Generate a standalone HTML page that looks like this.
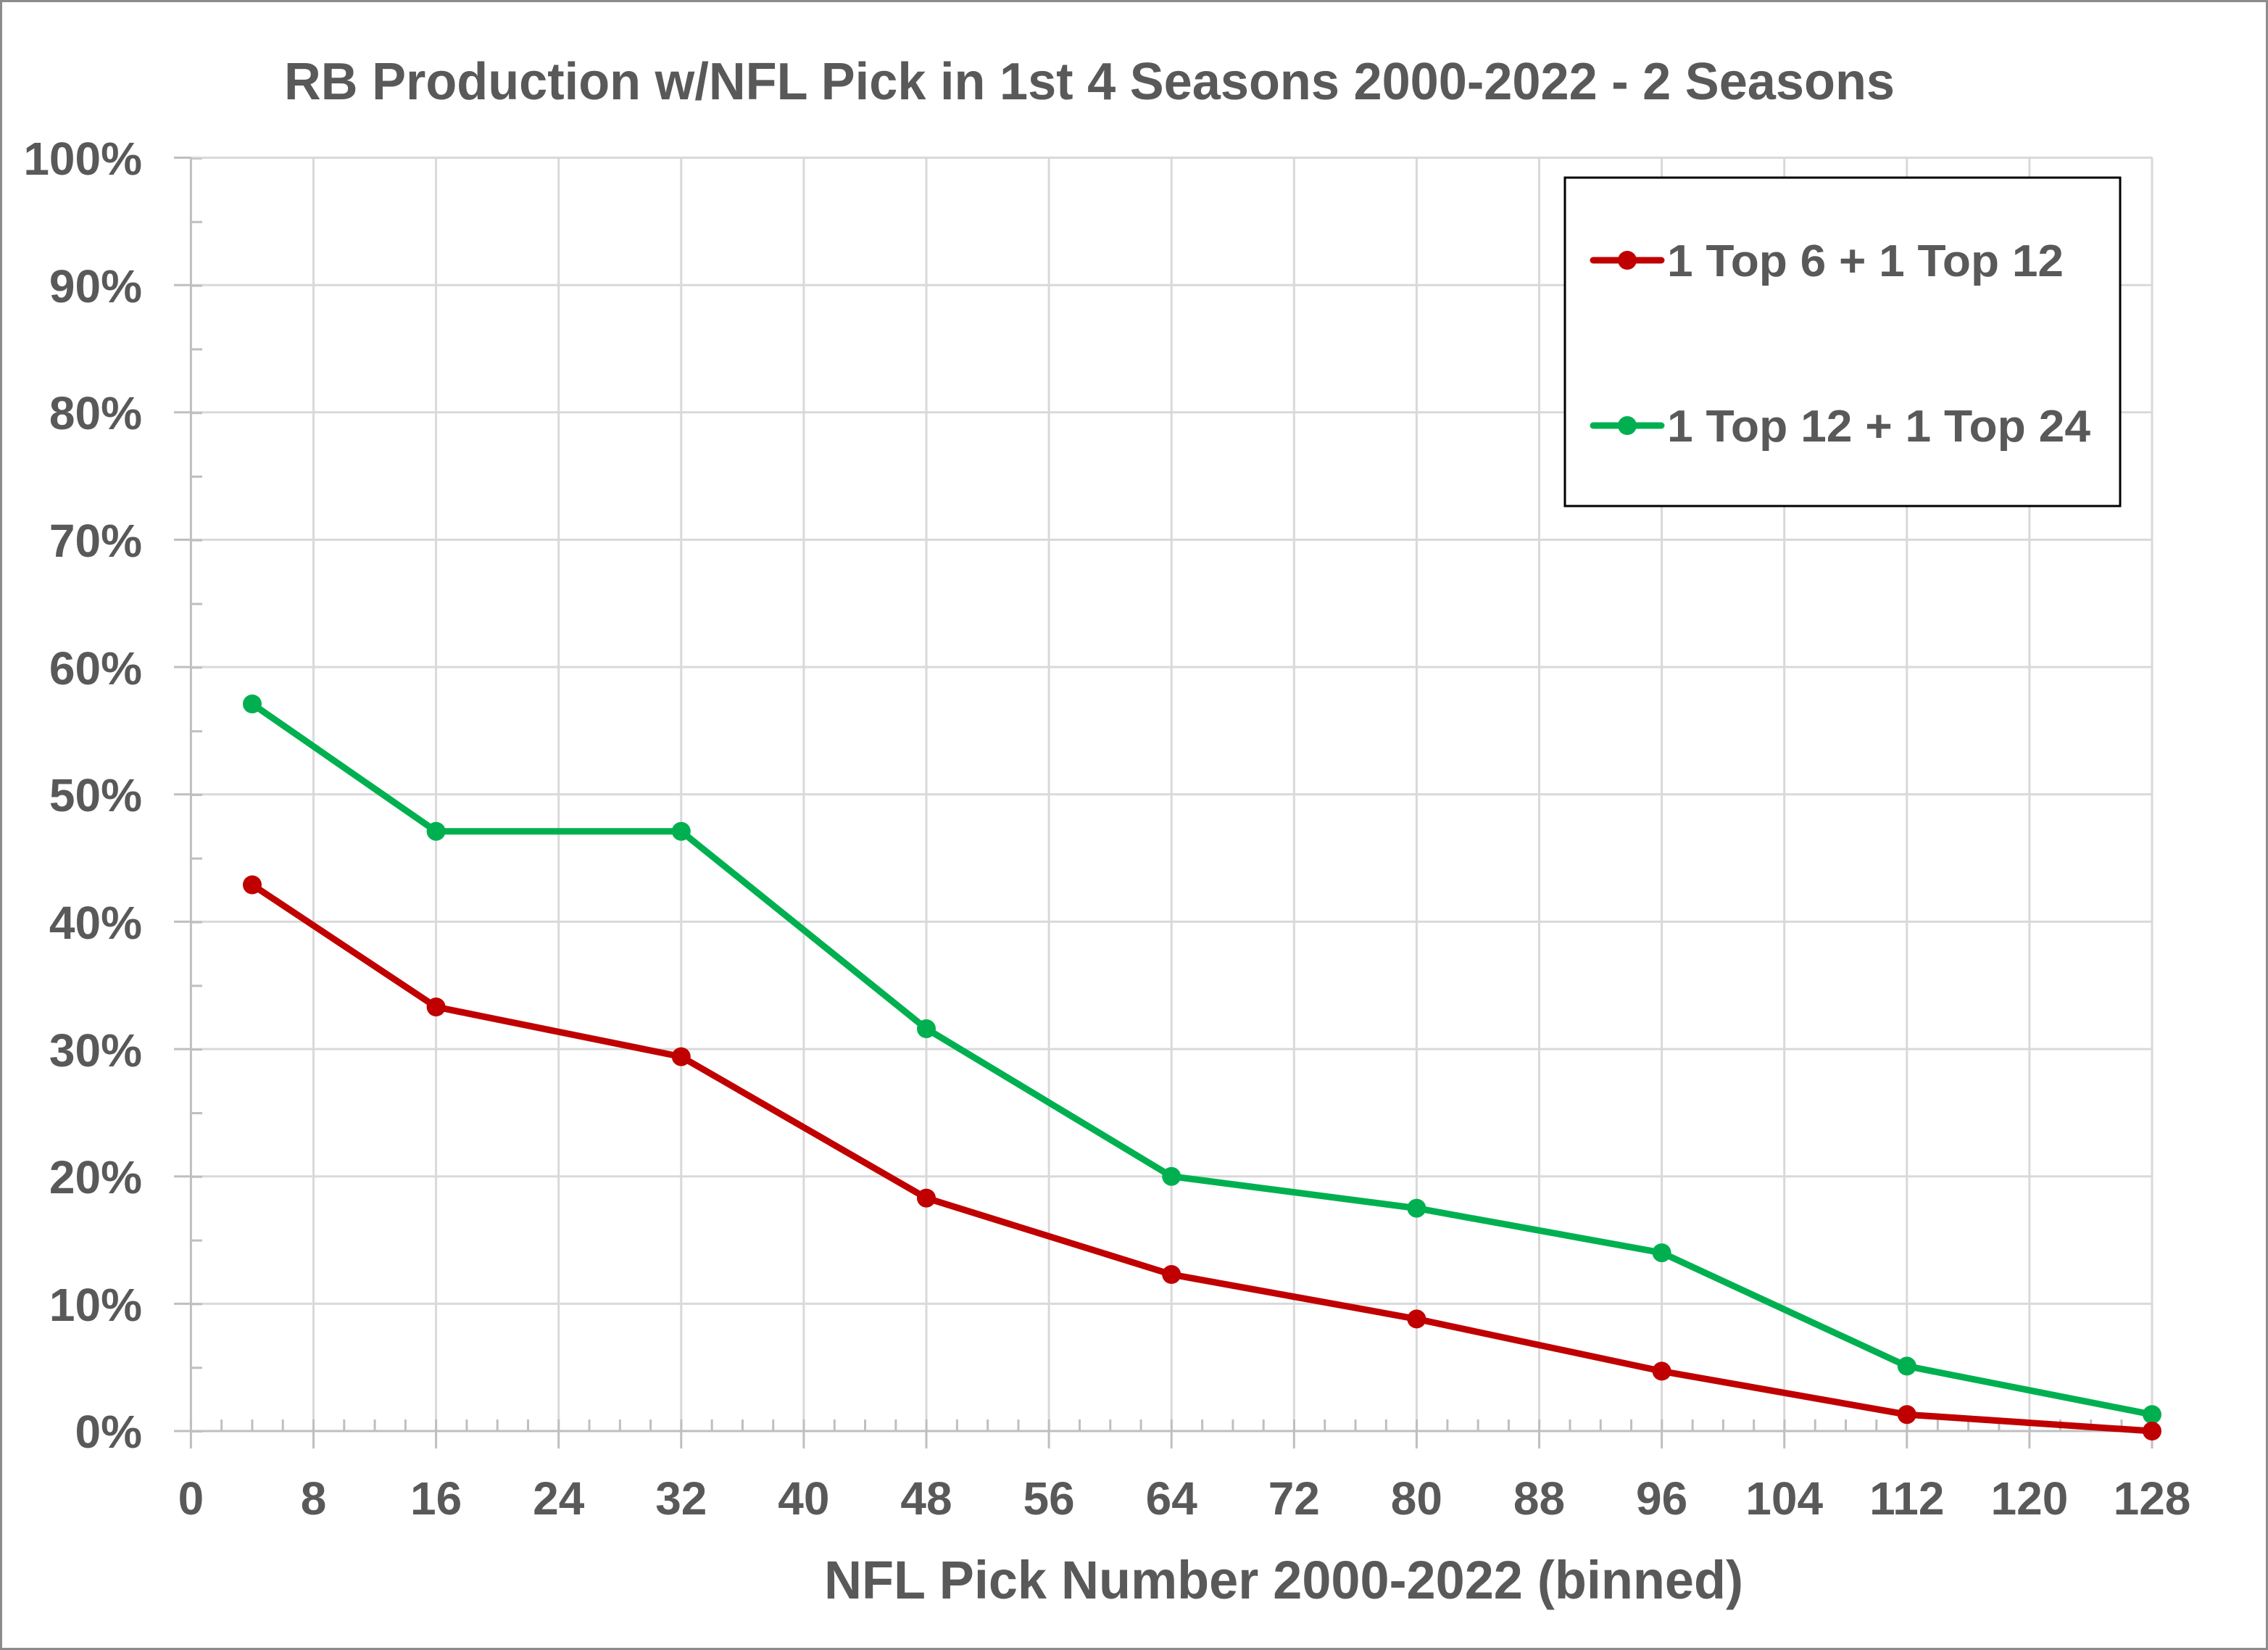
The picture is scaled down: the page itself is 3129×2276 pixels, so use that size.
<!DOCTYPE html>
<html><head><meta charset="utf-8"><style>html,body{margin:0;padding:0;background:#fff}svg{display:block}</style></head>
<body>
<svg width="3129" height="2276" viewBox="0 0 3129 2276" xmlns="http://www.w3.org/2000/svg" font-family="'Liberation Sans', sans-serif" font-weight="bold" fill="#595959">
<rect x="1.5" y="1.5" width="3126" height="2273" fill="#fff" stroke="#8c8c8c" stroke-width="3"/>
<g stroke="#d9d9d9" stroke-width="3">
<line x1="263" y1="217.5" x2="2969" y2="217.5"/>
<line x1="263" y1="393.2" x2="2969" y2="393.2"/>
<line x1="263" y1="568.8" x2="2969" y2="568.8"/>
<line x1="263" y1="744.5" x2="2969" y2="744.5"/>
<line x1="263" y1="920.1" x2="2969" y2="920.1"/>
<line x1="263" y1="1095.8" x2="2969" y2="1095.8"/>
<line x1="263" y1="1271.4" x2="2969" y2="1271.4"/>
<line x1="263" y1="1447.1" x2="2969" y2="1447.1"/>
<line x1="263" y1="1622.7" x2="2969" y2="1622.7"/>
<line x1="263" y1="1798.4" x2="2969" y2="1798.4"/>
</g>
<g stroke="#d9d9d9" stroke-width="3">
<line x1="432.5" y1="217" x2="432.5" y2="1974"/>
<line x1="601.6" y1="217" x2="601.6" y2="1974"/>
<line x1="770.7" y1="217" x2="770.7" y2="1974"/>
<line x1="939.8" y1="217" x2="939.8" y2="1974"/>
<line x1="1108.9" y1="217" x2="1108.9" y2="1974"/>
<line x1="1278" y1="217" x2="1278" y2="1974"/>
<line x1="1447.1" y1="217" x2="1447.1" y2="1974"/>
<line x1="1616.2" y1="217" x2="1616.2" y2="1974"/>
<line x1="1785.3" y1="217" x2="1785.3" y2="1974"/>
<line x1="1954.4" y1="217" x2="1954.4" y2="1974"/>
<line x1="2123.5" y1="217" x2="2123.5" y2="1974"/>
<line x1="2292.6" y1="217" x2="2292.6" y2="1974"/>
<line x1="2461.7" y1="217" x2="2461.7" y2="1974"/>
<line x1="2630.8" y1="217" x2="2630.8" y2="1974"/>
<line x1="2799.9" y1="217" x2="2799.9" y2="1974"/>
<line x1="2969" y1="217" x2="2969" y2="1974"/>
</g>
<g stroke="#bfbfbf" stroke-width="3">
<line x1="263.4" y1="217" x2="263.4" y2="1998"/>
<line x1="240" y1="1974" x2="2969" y2="1974"/>
<path d="M240 217.5h23M240 393.2h23M240 568.8h23M240 744.5h23M240 920.1h23M240 1095.8h23M240 1271.4h23M240 1447.1h23M240 1622.7h23M240 1798.4h23"/>
<path d="M432.5 1974v24M601.6 1974v24M770.7 1974v24M939.8 1974v24M1108.9 1974v24M1278 1974v24M1447.1 1974v24M1616.2 1974v24M1785.3 1974v24M1954.4 1974v24M2123.5 1974v24M2292.6 1974v24M2461.7 1974v24M2630.8 1974v24M2799.9 1974v24M2969 1974v24"/>
</g>
<line x1="261.9" y1="1966" x2="2971" y2="1966" stroke="#bfbfbf" stroke-width="16" stroke-dasharray="3 39.28"/>
<line x1="271" y1="218.5" x2="271" y2="1976" stroke="#bfbfbf" stroke-width="16" stroke-dasharray="3 84.8" stroke-dashoffset="-86.3"/>
<g font-size="64" text-anchor="end">
<text x="196" y="241">100%</text>
<text x="196" y="417">90%</text>
<text x="196" y="592">80%</text>
<text x="196" y="768">70%</text>
<text x="196" y="944">60%</text>
<text x="196" y="1119">50%</text>
<text x="196" y="1295">40%</text>
<text x="196" y="1471">30%</text>
<text x="196" y="1646">20%</text>
<text x="196" y="1822">10%</text>
<text x="196" y="1997">0%</text>
</g>
<g font-size="64" text-anchor="middle">
<text x="263.4" y="2089">0</text>
<text x="432.5" y="2089">8</text>
<text x="601.6" y="2089">16</text>
<text x="770.7" y="2089">24</text>
<text x="939.8" y="2089">32</text>
<text x="1108.9" y="2089">40</text>
<text x="1278" y="2089">48</text>
<text x="1447.1" y="2089">56</text>
<text x="1616.2" y="2089">64</text>
<text x="1785.3" y="2089">72</text>
<text x="1954.4" y="2089">80</text>
<text x="2123.5" y="2089">88</text>
<text x="2292.6" y="2089">96</text>
<text x="2461.7" y="2089">104</text>
<text x="2630.8" y="2089">112</text>
<text x="2799.9" y="2089">120</text>
<text x="2969" y="2089">128</text>
</g>
<text x="392" y="137" font-size="72" textLength="2222" lengthAdjust="spacingAndGlyphs">RB Production w/NFL Pick in 1st 4 Seasons 2000-2022 - 2 Seasons</text>
<text x="1137" y="2205" font-size="74" textLength="1268" lengthAdjust="spacingAndGlyphs">NFL Pick Number 2000-2022 (binned)</text>
<g fill="none" stroke-width="9" stroke-linejoin="round" stroke-linecap="round">
<polyline stroke="#00b050" points="348,971 601.6,1146.7 939.8,1146.7 1278,1419 1616.2,1622.7 1954.4,1666.6 2292.6,1728.1 2630.8,1884.4 2969,1951.2"/>
<polyline stroke="#c00000" points="348,1220.5 601.6,1389 939.8,1457.6 1278,1652.6 1616.2,1758 1954.4,1819.4 2292.6,1891.4 2630.8,1951.2 2969,1974"/>
</g>
<g fill="#00b050">
<circle cx="348" cy="971" r="13"/><circle cx="601.6" cy="1146.7" r="13"/><circle cx="939.8" cy="1146.7" r="13"/><circle cx="1278" cy="1419" r="13"/><circle cx="1616.2" cy="1622.7" r="13"/><circle cx="1954.4" cy="1666.6" r="13"/><circle cx="2292.6" cy="1728.1" r="13"/><circle cx="2630.8" cy="1884.4" r="13"/><circle cx="2969" cy="1951.2" r="13"/>
</g>
<g fill="#c00000">
<circle cx="348" cy="1220.5" r="13"/><circle cx="601.6" cy="1389" r="13"/><circle cx="939.8" cy="1457.6" r="13"/><circle cx="1278" cy="1652.6" r="13"/><circle cx="1616.2" cy="1758" r="13"/><circle cx="1954.4" cy="1819.4" r="13"/><circle cx="2292.6" cy="1891.4" r="13"/><circle cx="2630.8" cy="1951.2" r="13"/><circle cx="2969" cy="1974" r="13"/>
</g>
<rect x="2159" y="245" width="766" height="453" fill="#fff" stroke="#000" stroke-width="3"/>
<line x1="2198" y1="359" x2="2292" y2="359" stroke="#c00000" stroke-width="9" stroke-linecap="round"/>
<circle cx="2245" cy="359" r="13" fill="#c00000"/>
<line x1="2198" y1="587" x2="2292" y2="587" stroke="#00b050" stroke-width="9" stroke-linecap="round"/>
<circle cx="2245" cy="587" r="13" fill="#00b050"/>
<text x="2300" y="381" font-size="62" textLength="547" lengthAdjust="spacingAndGlyphs">1 Top 6 + 1 Top 12</text>
<text x="2300" y="609" font-size="62" textLength="584" lengthAdjust="spacingAndGlyphs">1 Top 12 + 1 Top 24</text>
</svg>
</body></html>
